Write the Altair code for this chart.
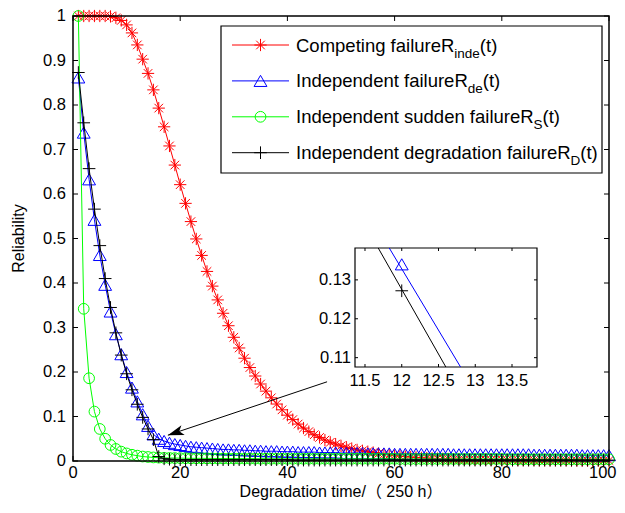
import math
import altair as alt
import pandas as pd

# ---------------- data ----------------
t_vals = [1, 2, 3, 4, 5, 6, 7, 8, 9, 10, 11, 12, 13, 14, 15, 16, 17, 18, 19, 20,
          21, 22, 23, 24, 25, 26, 27, 28, 29, 30, 31, 32, 33, 34, 35, 36, 37, 38, 39, 40,
          41, 42, 43, 44, 45, 46, 47, 48, 49, 50, 51, 52, 53, 54, 55, 56, 57, 58, 59, 60,
          61, 62, 63, 64, 65, 66, 67, 68, 69, 70, 71, 72, 73, 74, 75, 76, 77, 78, 79, 80,
          81, 82, 83, 84, 85, 86, 87, 88, 89, 90, 91, 92, 93, 94, 95, 96, 97, 98, 99, 100]

r_inde = [1.0, 1.0, 1.0, 1.0, 1.0, 1.0, 0.999, 0.996, 0.990, 0.980,
          0.962, 0.935, 0.903, 0.871, 0.834, 0.793, 0.751, 0.708, 0.665, 0.621,
          0.579, 0.538, 0.499, 0.462, 0.426, 0.393, 0.362, 0.332, 0.304, 0.278,
          0.254, 0.231, 0.210, 0.191, 0.173, 0.157, 0.142, 0.128, 0.115, 0.103,
          0.093, 0.083, 0.074, 0.066, 0.059, 0.053, 0.047, 0.042, 0.038, 0.034,
          0.031, 0.028, 0.025, 0.023, 0.021, 0.019, 0.017, 0.015, 0.014, 0.012,
          0.011, 0.010, 0.009, 0.008, 0.007, 0.0065, 0.006, 0.0055, 0.005, 0.0045,
          0.004, 0.004, 0.0035, 0.0035, 0.003, 0.003, 0.003, 0.0025, 0.0025, 0.0025,
          0.002, 0.002, 0.002, 0.002, 0.002, 0.002, 0.0015, 0.0015, 0.0015, 0.0015,
          0.0015, 0.0015, 0.001, 0.001, 0.001, 0.001, 0.001, 0.001, 0.001, 0.001]

r_de = [0.862, 0.738, 0.633, 0.542, 0.463, 0.396, 0.336, 0.285, 0.240, 0.200,
        0.165, 0.134, 0.105, 0.079, 0.060, 0.050, 0.045, 0.041, 0.038, 0.036,
        0.034, 0.032, 0.031, 0.030, 0.029, 0.028, 0.027, 0.026, 0.026, 0.025,
        0.025, 0.024, 0.024, 0.023, 0.023, 0.022, 0.022, 0.022, 0.021, 0.021,
        0.021, 0.020, 0.020, 0.020, 0.020, 0.019, 0.019, 0.019, 0.019, 0.018,
        0.018, 0.018, 0.018, 0.018, 0.017, 0.017, 0.017, 0.017, 0.017, 0.016,
        0.016, 0.016, 0.016, 0.016, 0.016, 0.016, 0.016, 0.016, 0.016, 0.016,
        0.015, 0.015, 0.015, 0.015, 0.015, 0.015, 0.015, 0.015, 0.015, 0.015,
        0.015, 0.015, 0.015, 0.015, 0.015, 0.014, 0.014, 0.014, 0.014, 0.014,
        0.014, 0.014, 0.014, 0.014, 0.013, 0.013, 0.013, 0.013, 0.013, 0.013]

r_s = [1.0, 0.342, 0.186, 0.111, 0.072, 0.050, 0.036, 0.027, 0.021, 0.017,
       0.014, 0.012, 0.010, 0.009, 0.008, 0.0075, 0.007, 0.0068, 0.0066, 0.0064,
       0.0062, 0.006, 0.006, 0.006, 0.0058, 0.0058, 0.0056, 0.0056, 0.0055, 0.0055,
       0.0054, 0.0054, 0.0053, 0.0053, 0.0052, 0.0052, 0.0051, 0.0051, 0.005, 0.005,
       0.005, 0.005, 0.005, 0.005, 0.005, 0.005, 0.005, 0.005, 0.005, 0.005,
       0.005, 0.005, 0.005, 0.005, 0.005, 0.005, 0.005, 0.005, 0.005, 0.005,
       0.0045, 0.0045, 0.0045, 0.0045, 0.0045, 0.0045, 0.0045, 0.0045, 0.0045, 0.0045,
       0.0045, 0.0045, 0.0045, 0.0045, 0.0045, 0.0045, 0.0045, 0.0045, 0.0045, 0.0045,
       0.004, 0.004, 0.004, 0.004, 0.004, 0.004, 0.004, 0.004, 0.004, 0.004,
       0.004, 0.004, 0.004, 0.004, 0.004, 0.004, 0.004, 0.004, 0.004, 0.004]

r_d = [0.873, 0.760, 0.657, 0.566, 0.484, 0.410, 0.345, 0.288, 0.238, 0.196,
       0.160, 0.1275, 0.098, 0.072, 0.048, 0.010, 0.005, 0.004, 0.003, 0.003,
       0.003, 0.003, 0.003, 0.003, 0.003, 0.003, 0.003, 0.003, 0.003, 0.003,
       0.003, 0.003, 0.003, 0.003, 0.003, 0.003, 0.003, 0.003, 0.003, 0.003,
       0.002, 0.002, 0.002, 0.002, 0.002, 0.002, 0.002, 0.002, 0.002, 0.002,
       0.002, 0.002, 0.002, 0.002, 0.002, 0.002, 0.002, 0.002, 0.002, 0.002,
       0.002, 0.002, 0.002, 0.002, 0.002, 0.002, 0.002, 0.002, 0.002, 0.002,
       0.002, 0.002, 0.002, 0.002, 0.002, 0.002, 0.002, 0.002, 0.002, 0.002,
       0.002, 0.002, 0.002, 0.002, 0.002, 0.002, 0.002, 0.002, 0.002, 0.002,
       0.002, 0.002, 0.002, 0.002, 0.002, 0.002, 0.002, 0.002, 0.002, 0.002]

x_ticks = [0, 20, 40, 60, 80, 100]
y_ticks = [0, 0.1, 0.2, 0.3, 0.4, 0.5, 0.6, 0.7, 0.8, 0.9, 1]

# inset (zoom around t = 12)
inset_x_ticks = [11.5, 12, 12.5, 13, 13.5]
inset_y_ticks = [0.11, 0.12, 0.13]
inset_x_domain = [11.364, 13.84]
inset_y_domain = [0.1076, 0.1382]
inset_de_line_t = [11.83, 12.80]
inset_de_line_v = [0.1382, 0.1076]
inset_d_line_t = [11.68, 12.60]
inset_d_line_v = [0.1382, 0.1076]
inset_de_mark = [12.0, 0.134]
inset_d_mark = [12.0, 0.1272]

# arrow annotation (tail -> tip) in data units
arrow_tail = [47.4, 0.178]
arrow_tip = [17.7, 0.058]

legend_main = ["Competing failureR", "Independent failureR",
               "Independent sudden failureR", "Independent degradation failureR"]
legend_sub = ["inde", "de", "S", "D"]
legend_tail = "(t)"

x_title = "Degradation time/（ 250 h）"
y_title = "Reliability"

# ---------------- layout / style ----------------
W, H = 536, 445
FONT = "Liberation Sans, Arial, Helvetica, sans-serif"
FONT_CJK = "Liberation Sans, Arial, Noto Sans CJK SC, sans-serif"

STAR = "M-1,0L1,0M0,-1L0,1M-0.7,-0.7L0.7,0.7M-0.7,0.7L0.7,-0.7"
PLUS = "M-1,0L1,0M0,-1L0,1"
ARROW = "M0,0L0.32,1L0,0.75L-0.32,1Z"

styles = [("#ff0000", STAR, 150), ("#0000ff", "triangle-up", 165),
          ("#00ff00", "circle", 115), ("#000000", PLUS, 160)]
series_vals = [r_inde, r_de, r_s, r_d]

xs = alt.Scale(domain=[0, 100], nice=False, zero=False)
ys = alt.Scale(domain=[0, 1], nice=False, zero=False)

one = pd.DataFrame({"k": [0]})
layers = []

for vals, (color, shape, size) in zip(series_vals, styles):
    df = pd.DataFrame({"t": t_vals, "v": vals})
    base = alt.Chart(df).encode(
        x=alt.X("t:Q", scale=xs, axis=None),
        y=alt.Y("v:Q", scale=ys, axis=None),
    )
    layers.append(base.mark_line(color=color, strokeWidth=1))
    layers.append(base.mark_point(shape=shape, size=size, filled=False, color=color,
                                  strokeWidth=1, opacity=1))

# frame
layers.append(alt.Chart(one).mark_rect(fill="transparent", stroke="black", strokeWidth=1.5).encode(
    x=alt.value(0), x2=alt.value(W), y=alt.value(0), y2=alt.value(H)))

# inward ticks
xt = pd.DataFrame({"t": x_ticks})
yt = pd.DataFrame({"t": y_ticks})
TL = 5
for y0, y1 in [(H, H - TL), (0, TL)]:
    layers.append(alt.Chart(xt).mark_rule(color="black", strokeWidth=1).encode(
        x=alt.X("t:Q", scale=xs, axis=None), y=alt.value(y0), y2=alt.value(y1)))
for x0, x1 in [(0, TL), (W, W - TL)]:
    layers.append(alt.Chart(yt).mark_rule(color="black", strokeWidth=1).encode(
        y=alt.Y("t:Q", scale=ys, axis=None), x=alt.value(x0), x2=alt.value(x1)))

# tick labels (last x label kept inside the page)
layers.append(alt.Chart(pd.DataFrame({"t": x_ticks[:-1]})).mark_text(
    align="center", baseline="top", fontSize=16.5, font=FONT, color="black").encode(
    x=alt.X("t:Q", scale=xs, axis=None), y=alt.value(H + 4),
    text=alt.Text("t:Q", format="~g")))
layers.append(alt.Chart(pd.DataFrame({"t": x_ticks[-1:]})).mark_text(
    align="right", baseline="top", fontSize=16.5, font=FONT, color="black", dx=7.5).encode(
    x=alt.X("t:Q", scale=xs, axis=None), y=alt.value(H + 4),
    text=alt.Text("t:Q", format="~g")))
layers.append(alt.Chart(yt).mark_text(align="right", baseline="middle", fontSize=16.5, font=FONT,
                                      color="black").encode(
    y=alt.Y("t:Q", scale=ys, axis=None), x=alt.value(-7),
    text=alt.Text("t:Q", format="~g")))

# axis titles
layers.append(alt.Chart(one).mark_text(text=x_title, align="center", baseline="alphabetic",
                                       fontSize=16, font=FONT_CJK, color="black").encode(
    x=alt.value(W / 2), y=alt.value(H + 36)))
layers.append(alt.Chart(one).mark_text(text=y_title, align="center", baseline="middle", angle=270,
                                       fontSize=16, font=FONT, color="black").encode(
    x=alt.value(-54), y=alt.value(H / 2)))

# arrow
adf = pd.DataFrame({"x1": [arrow_tail[0]], "y1": [arrow_tail[1]],
                    "x2": [arrow_tip[0]], "y2": [arrow_tip[1]]})
layers.append(alt.Chart(adf).mark_rule(color="black", strokeWidth=1).encode(
    x=alt.X("x1:Q", scale=xs, axis=None), y=alt.Y("y1:Q", scale=ys, axis=None),
    x2="x2:Q", y2="y2:Q"))
dx = (arrow_tip[0] - arrow_tail[0]) * W / 100.0
dy = -(arrow_tip[1] - arrow_tail[1]) * H / 1.0
ang = (math.degrees(math.atan2(dx, -dy)) + 360) % 360
layers.append(alt.Chart(adf).mark_point(shape=ARROW, angle=ang, size=1024, filled=True,
                                        color="black", opacity=1, strokeWidth=0).encode(
    x=alt.X("x2:Q", scale=xs, axis=None), y=alt.Y("y2:Q", scale=ys, axis=None)))

# legend
AW = {' ': 278, '(': 333, ')': 333, 'C': 722, 'D': 722, 'I': 278, 'R': 722, 'S': 667,
      'a': 556, 'd': 556, 'e': 556, 'f': 278, 'g': 556, 'i': 222, 'l': 222, 'm': 833,
      'n': 556, 'o': 556, 'p': 556, 'r': 333, 's': 500, 't': 278, 'u': 556}


def tw(s, fs):
    return sum(AW.get(c, 556) for c in s) * fs / 1000.0


LX0, LX1, LY0, LY1 = 148, 529, 10, 157
layers.append(alt.Chart(one).mark_rect(fill="white", stroke="black", strokeWidth=1.2).encode(
    x=alt.value(LX0), x2=alt.value(LX1), y=alt.value(LY0), y2=alt.value(LY1)))
FS, FSS = 18.5, 13.5
row_y = [29, 64.9, 100.8, 136.7]
for i, (color, shape, size) in enumerate(styles):
    cy = row_y[i]
    layers.append(alt.Chart(one).mark_rule(color=color, strokeWidth=1).encode(
        x=alt.value(159), x2=alt.value(216), y=alt.value(cy)))
    layers.append(alt.Chart(one).mark_point(shape=shape, size=size, filled=False, color=color,
                                            strokeWidth=1, opacity=1).encode(
        x=alt.value(187.5), y=alt.value(cy)))
    tx = 223
    by = cy + 6.5
    layers.append(alt.Chart(one).mark_text(text=legend_main[i], align="left", baseline="alphabetic",
                                           fontSize=FS, font=FONT, color="black").encode(
        x=alt.value(tx), y=alt.value(by)))
    sx = tx + tw(legend_main[i], FS)
    layers.append(alt.Chart(one).mark_text(text=legend_sub[i], align="left", baseline="alphabetic",
                                           fontSize=FSS, font=FONT, color="black").encode(
        x=alt.value(sx), y=alt.value(by + 6)))
    px = sx + tw(legend_sub[i], FSS)
    layers.append(alt.Chart(one).mark_text(text=legend_tail, align="left", baseline="alphabetic",
                                           fontSize=FS, font=FONT, color="black").encode(
        x=alt.value(px), y=alt.value(by)))

main = alt.layer(*layers)

# ---------------- inset ----------------
IX0, IX1, IY0, IY1 = 282, 464, 232, 351
ixs = alt.Scale(domain=inset_x_domain, range=[IX0, IX1], nice=False, zero=False)
iys = alt.Scale(domain=inset_y_domain, range=[IY1, IY0], nice=False, zero=False)

il = []
il.append(alt.Chart(one).mark_rect(fill="white", stroke="black", strokeWidth=1.2).encode(
    x=alt.value(IX0), x2=alt.value(IX1), y=alt.value(IY0), y2=alt.value(IY1)))
for lt, lv, color in [(inset_de_line_t, inset_de_line_v, "#0000ff"),
                      (inset_d_line_t, inset_d_line_v, "#000000")]:
    il.append(alt.Chart(pd.DataFrame({"t": lt, "v": lv})).mark_line(color=color, strokeWidth=1).encode(
        x=alt.X("t:Q", scale=ixs, axis=None), y=alt.Y("v:Q", scale=iys, axis=None)))
for mk, (color, shape, size) in [(inset_de_mark, styles[1]), (inset_d_mark, styles[3])]:
    il.append(alt.Chart(pd.DataFrame({"t": [mk[0]], "v": [mk[1]]})).mark_point(
        shape=shape, size=size, filled=False, color=color, strokeWidth=1, opacity=1).encode(
        x=alt.X("t:Q", scale=ixs, axis=None), y=alt.Y("v:Q", scale=iys, axis=None)))
ixt = pd.DataFrame({"t": inset_x_ticks})
iyt = pd.DataFrame({"t": inset_y_ticks})
ITL = 3
for y0, y1 in [(IY1, IY1 - ITL), (IY0, IY0 + ITL)]:
    il.append(alt.Chart(ixt).mark_rule(color="black", strokeWidth=1).encode(
        x=alt.X("t:Q", scale=ixs, axis=None), y=alt.value(y0), y2=alt.value(y1)))
for x0, x1 in [(IX0, IX0 + ITL), (IX1, IX1 - ITL)]:
    il.append(alt.Chart(iyt).mark_rule(color="black", strokeWidth=1).encode(
        y=alt.Y("t:Q", scale=iys, axis=None), x=alt.value(x0), x2=alt.value(x1)))
il.append(alt.Chart(ixt).mark_text(align="center", baseline="top", fontSize=16.5, font=FONT,
                                   color="black").encode(
    x=alt.X("t:Q", scale=ixs, axis=None), y=alt.value(IY1 + 6),
    text=alt.Text("t:Q", format="~g")))
il.append(alt.Chart(iyt).mark_text(align="right", baseline="middle", fontSize=16.5, font=FONT,
                                   color="black").encode(
    y=alt.Y("t:Q", scale=iys, axis=None), x=alt.value(IX0 - 4),
    text=alt.Text("t:Q", format="~g")))
inset = alt.layer(*il)

chart = alt.layer(main, inset).resolve_scale(x="independent", y="independent").properties(
    width=W, height=H,
    autosize=alt.AutoSizeParams(type="none"),
    padding={"left": 65, "top": 8, "right": 8, "bottom": 40},
).configure_view(strokeWidth=0)

chart.save("out.html", embed_options={"renderer": "svg", "actions": False})
